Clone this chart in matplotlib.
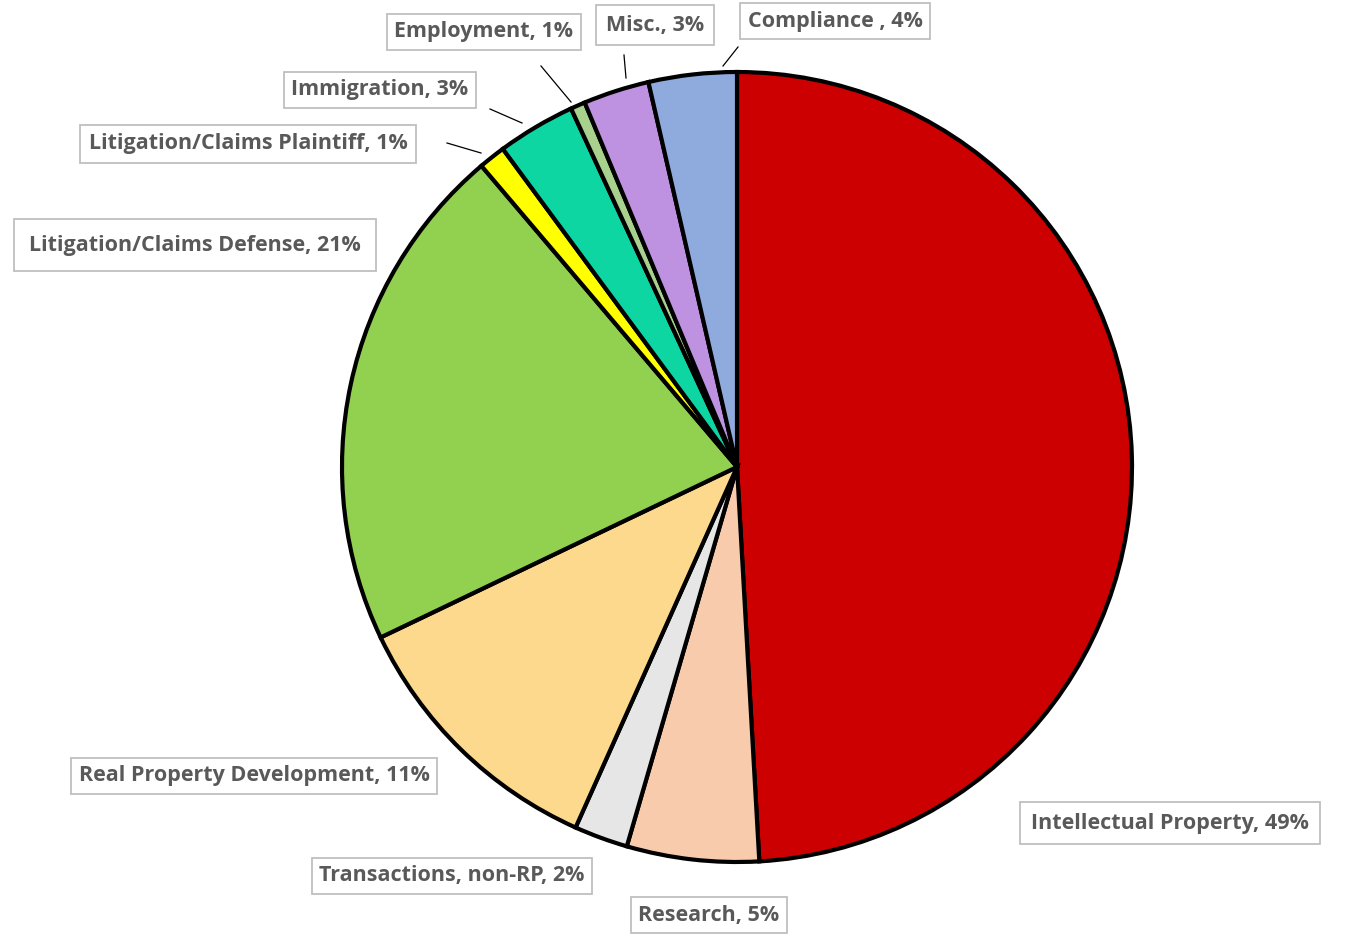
import matplotlib.pyplot as plt

# slices, clockwise from 12 o'clock
categories = ["Intellectual Property", "Research", "Transactions, non-RP",
              "Real Property Development", "Litigation/Claims Defense",
              "Litigation/Claims Plaintiff", "Immigration", "Employment",
              "Misc.", "Compliance "]
shares = [49.1, 5.4, 2.2, 11.2, 20.9, 1.1, 3.2, 0.6, 2.7, 3.6]
pct_labels = ["49%", "5%", "2%", "11%", "21%", "1%", "3%", "1%", "3%", "4%"]
colors = ["#CC0000", "#F8CBAD", "#E7E6E6", "#FDD98D", "#92D050",
          "#FFFF00", "#0DD6A3", "#A9D18E", "#BE92E0", "#8FAADC"]

W, H = 1351, 935
fig = plt.figure(figsize=(W / 100, H / 100), dpi=100)
ax = fig.add_axes([0, 0, 1, 1])

cx, cy, r = 737, H - 467, 395
ax.pie(shares, colors=colors, startangle=90, counterclock=False,
       center=(cx, cy), radius=r, frame=True,
       wedgeprops=dict(edgecolor="black", linewidth=3))
ax.set_xlim(0, W)
ax.set_ylim(0, H)
ax.set_aspect("equal")
ax.axis("off")

# label box centres and leader lines, in pixel coords (y from top)
label_pos = [(1170, 823), (709, 915), (452, 876), (254, 776), (195, 245),
             (248, 144), (380, 90), (484, 32), (655, 25), (835, 21)]
label_pad = [0.5, 0.35, 0.35, 0.35, 0.7, 0.4, 0.35, 0.35, 0.45, 0.35]
leaders = {9: ((738, 47), (723, 66)), 8: ((624, 55), (626, 78)),
           7: ((541, 66), (571, 102)), 6: ((490, 109), (522, 123)),
           5: ((447, 143), (481, 153))}

for i, (name, pct) in enumerate(zip(categories, pct_labels)):
    x, y = label_pos[i]
    ax.text(x, H - y, f"{name}, {pct}", ha="center", va="center",
            fontsize=15.5, fontweight="bold", color="#595959", family="Open Sans",
            bbox=dict(boxstyle=f"square,pad={label_pad[i]}", facecolor="white",
                      edgecolor="#BFBFBF", linewidth=1.3))

for i, ((x1, y1), (x2, y2)) in leaders.items():
    ax.plot([x1, x2], [H - y1, H - y2], color="black", linewidth=0.9)

fig.savefig("out.png", dpi=100)
